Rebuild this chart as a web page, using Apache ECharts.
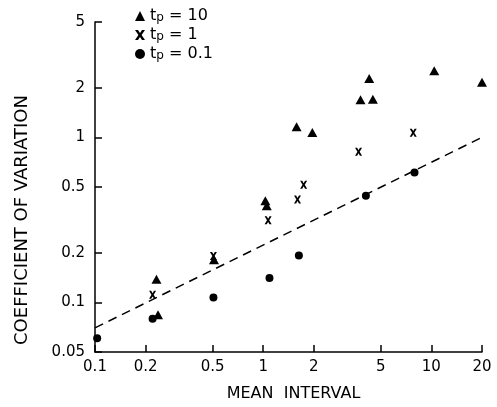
<!DOCTYPE html>
<html>
<head>
<meta charset="utf-8">
<script src="https://cdn.jsdelivr.net/npm/echarts@6/dist/echarts.min.js"></script>
<style>
html,body{margin:0;padding:0;background:#fff;}
#chart{width:497px;height:407px;}
</style>
</head>
<body>
<div id="chart"></div>
<script>
// Tick values and labels
const xTicks = [0.1, 0.2, 0.5, 1, 2, 5, 10, 20];
const xTickLabels = ['0.1', '0.2', '0.5', '1', '2', '5', '10', '20'];
const yTicks = [0.05, 0.1, 0.2, 0.5, 1, 2, 5];
const yTickLabels = ['0.05', '0.1', '0.2', '0.5', '1', '2', '5'];

// Series: t_p = 10 (triangles)
const tp10X = [0.232, 0.237, 0.51, 1.03, 1.05, 1.58, 1.96, 3.79, 4.27, 4.49, 10.4, 20];
const tp10Y = [0.138, 0.0840, 0.181, 0.412, 0.385, 1.16, 1.07, 1.69, 2.27, 1.70, 2.53, 2.16];
// Series: t_p = 1 (crosses)
const tp1X = [0.22, 0.506, 1.07, 1.6, 1.74, 3.69, 7.8];
const tp1Y = [0.111, 0.191, 0.314, 0.42, 0.516, 0.818, 1.067];
// Series: t_p = 0.1 (dots)
const tp01X = [0.103, 0.22, 0.506, 1.09, 1.63, 4.08, 7.94];
const tp01Y = [0.0606, 0.0796, 0.107, 0.1406, 0.192, 0.443, 0.612];
// Dashed reference line
const fitX = [0.1, 20];
const fitY = [0.07, 1.0];

const seriesNames = ['tp = 10', 'tp = 1', 'tp = 0.1'];

const FONT = 'DejaVu Sans';
const crossPath = 'path://M0,0 L3,0 L5,3 L7,0 L10,0 L6.6,5 L10,10 L7,10 L5,7 L3,10 L0,10 L3.4,5 Z';

function zip(xs, ys) { return xs.map((x, i) => [x, ys[i]]); }
function lookup(ticks, labels, v) {
  let best = 0, bd = Infinity;
  ticks.forEach((t, i) => { const d = Math.abs(Math.log(t) - Math.log(v)); if (d < bd) { bd = d; best = i; } });
  return labels[best];
}

const chart = echarts.init(document.getElementById('chart'));
chart.setOption({
  backgroundColor: '#fff',
  animation: false,
  textStyle: { fontFamily: FONT, color: '#000' },
  grid: { left: 95, right: 15, top: 22, bottom: 50 },
  legend: {
    orient: 'vertical',
    left: 130, top: 3,
    itemWidth: 10, itemHeight: 10,
    itemGap: 3,
    data: [
      { name: seriesNames[0], icon: 'triangle' },
      { name: seriesNames[1], icon: crossPath },
      { name: seriesNames[2], icon: 'circle' }
    ],
    formatter: function (name) { return '{a|t}{b|p}{a|' + name.slice(2) + '}'; },
    textStyle: {
      color: '#000', fontFamily: FONT, fontSize: 16,
      rich: {
        a: { fontSize: 16, fontFamily: FONT, color: '#000', lineHeight: 16 },
        b: { fontSize: 12, fontFamily: FONT, color: '#000', padding: [4, 0, 0, 0], lineHeight: 16 }
      }
    }
  },
  xAxis: {
    type: 'log', min: 0.1, max: 20,
    name: 'MEAN  INTERVAL', nameLocation: 'middle', nameGap: 34,
    nameTextStyle: { fontFamily: FONT, fontSize: 16, color: '#000', padding: [0, 0, 0, 10] },
    axisLine: { show: true, onZero: false, lineStyle: { color: '#000', width: 1.5 } },
    axisTick: { show: true, inside: true, length: 7, customValues: xTicks, lineStyle: { color: '#000', width: 1.5 } },
    axisLabel: { customValues: xTicks, margin: 8, fontFamily: FONT, fontSize: 15, color: '#000',
      formatter: v => lookup(xTicks, xTickLabels, v) },
    splitLine: { show: false }
  },
  yAxis: {
    type: 'log', min: 0.05, max: 5,
    name: 'COEFFICIENT OF VARIATION', nameLocation: 'middle', nameGap: 64, nameRotate: 90,
    nameTextStyle: { fontFamily: FONT, fontSize: 18, color: '#000', padding: [0, 66, 0, 0], align: 'center' },
    axisLine: { show: true, onZero: false, lineStyle: { color: '#000', width: 1.5 } },
    axisTick: { show: true, inside: true, length: 7, customValues: yTicks, lineStyle: { color: '#000', width: 1.5 } },
    axisLabel: { customValues: yTicks, margin: 10, fontFamily: FONT, fontSize: 15, color: '#000',
      formatter: v => lookup(yTicks, yTickLabels, v) },
    splitLine: { show: false }
  },
  series: [
    {
      name: seriesNames[0], type: 'scatter', symbol: 'triangle', symbolSize: [10, 9],
      itemStyle: { color: '#000', opacity: 1 }, data: zip(tp10X, tp10Y), clip: false, z: 3
    },
    {
      name: seriesNames[1], type: 'scatter', symbol: crossPath, symbolSize: [7, 8],
      itemStyle: { color: '#000', opacity: 1 }, data: zip(tp1X, tp1Y), clip: false, z: 3
    },
    {
      name: seriesNames[2], type: 'scatter', symbol: 'circle', symbolSize: 8,
      itemStyle: { color: '#000', opacity: 1 }, data: zip(tp01X, tp01Y), clip: false, z: 3
    },
    {
      name: 'fit', type: 'line', data: zip(fitX, fitY), symbol: 'none',
      lineStyle: { color: '#000', width: 1.5, type: [9, 6] }, z: 2, silent: true
    }
  ]
});
</script>
</body>
</html>
